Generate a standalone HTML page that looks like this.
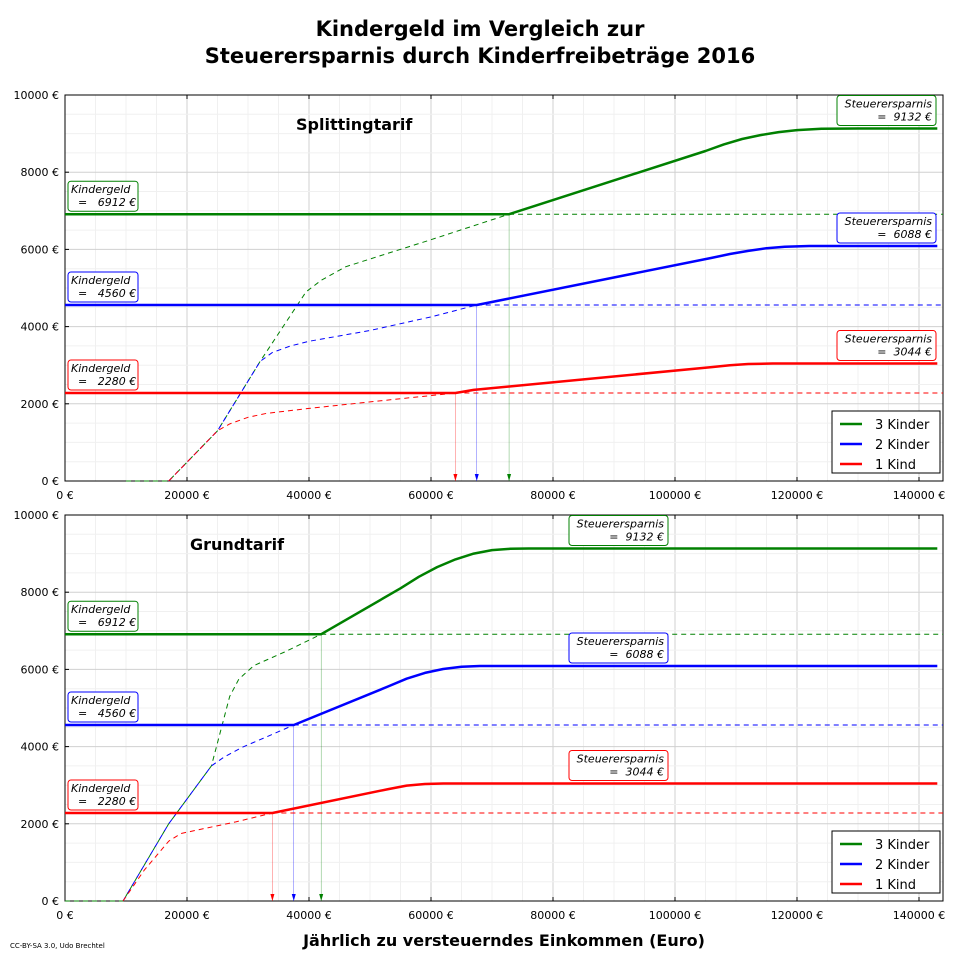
<!DOCTYPE html>
<html><head><meta charset="utf-8"><style>
body{margin:0;background:#fff;}
svg{display:block;font-family:"DejaVu Sans","Liberation Sans",sans-serif;}
</style></head><body>
<svg id="s" width="960" height="960" viewBox="0 0 960 960" xmlns="http://www.w3.org/2000/svg"></svg>
<script>
const s=document.getElementById('s');let h='';
h+='<rect width="960" height="960" fill="#fff"/>';
h+='<text x="480" y="36" font-size="21" font-weight="bold" text-anchor="middle">Kindergeld im Vergleich zur</text>';
h+='<text x="480" y="63" font-size="21" font-weight="bold" text-anchor="middle">Steuerersparnis durch Kinderfreibeträge 2016</text>';
const L=65,R=943;
function X(v){return L+v*0.0061;}
function panel(top,title,titleX,d){
 const bot=top+386;const Y=v=>bot-v*0.0386;
 for(let v=5000;v<=140000;v+=5000){h+=`<line x1="${X(v)}" y1="${top}" x2="${X(v)}" y2="${bot}" stroke="${v%20000?'#f0f0f0':'#d0d0d0'}" stroke-width="1"/>`;}
 for(let v=500;v<10000;v+=500){h+=`<line x1="${L}" y1="${Y(v)}" x2="${R}" y2="${Y(v)}" stroke="${v%2000?'#f0f0f0':'#d0d0d0'}" stroke-width="1"/>`;}
 h+=`<rect x="${L}" y="${top}" width="${R-L}" height="386" fill="none" stroke="#000" stroke-width="1"/>`;
 for(let v=0;v<=140000;v+=20000){h+=`<line x1="${X(v)}" y1="${bot}" x2="${X(v)}" y2="${bot-4}" stroke="#000"/><line x1="${X(v)}" y1="${top}" x2="${X(v)}" y2="${top+4}" stroke="#000"/><text x="${X(v)}" y="${bot+18}" font-size="11" text-anchor="middle">${v} €</text>`;}
 for(let v=0;v<=10000;v+=2000){h+=`<line x1="${L}" y1="${Y(v)}" x2="${L+4}" y2="${Y(v)}" stroke="#000"/><text x="${L-6}" y="${Y(v)+4}" font-size="11" text-anchor="end">${v} €</text>`;}
 h+=`<text x="${titleX}" y="${top+35}" font-size="16" font-weight="bold">${title}</text>`;
 const P=a=>a.map(p=>X(p[0]).toFixed(1)+','+Y(p[1]).toFixed(1)).join(' ');
 d.forEach(c=>{
  h+=`<polyline points="${P(c.dash)}" fill="none" stroke="${c.col}" stroke-width="1" stroke-dasharray="5,4"/>`;
  h+=`<line x1="${X(c.cx)}" y1="${Y(c.kg)}" x2="${R}" y2="${Y(c.kg)}" stroke="${c.col}" stroke-width="1" stroke-dasharray="5,4"/>`;
  h+=`<line x1="${X(c.cx)}" y1="${Y(c.kg)}" x2="${X(c.cx)}" y2="${bot}" stroke="${c.col}" stroke-width="0.5" opacity="0.6"/>`;
  h+=`<polygon points="${X(c.cx)-2},${bot-7} ${X(c.cx)+2},${bot-7} ${X(c.cx)},${bot}" fill="${c.col}"/>`;
  h+=`<polyline points="${P(c.solid)}" fill="none" stroke="${c.col}" stroke-width="2.5" stroke-linejoin="round"/>`;
  const ky=Y(c.kg)-33;
  h+=`<rect x="68" y="${ky}" width="70" height="30" rx="3" fill="#fff" stroke="${c.col}"/><text x="71" y="${ky+12}" font-size="11" font-style="italic">Kindergeld</text><text x="71" y="${ky+25}" font-size="11" font-style="italic">&#160;&#160;=&#160;&#160;&#160;${c.kg} €</text>`;
  const sy=Y(c.st)-33, sx=c.sx;
  h+=`<rect x="${sx}" y="${sy}" width="99" height="30" rx="3" fill="#fff" stroke="${c.col}"/><text x="${sx+95}" y="${sy+12}" font-size="11" font-style="italic" text-anchor="end">Steuerersparnis</text><text x="${sx+95}" y="${sy+25}" font-size="11" font-style="italic" text-anchor="end">=&#160;&#160;${c.st} €</text>`;
 });
 h+=`<rect x="832" y="${bot-70}" width="108" height="62" fill="#fff" stroke="#000"/>`;
 [['#008000','3 Kinder'],['#0000ff','2 Kinder'],['#ff0000','1 Kind']].forEach((l,i)=>{const y=bot-57+i*20;h+=`<line x1="840" y1="${y}" x2="862" y2="${y}" stroke="${l[0]}" stroke-width="2.5"/><text x="875" y="${y+5}" font-size="13">${l[1]}</text>`;});
}
const G='#008000',B='#0000ff',Rd='#ff0000';
panel(95,'Splittingtarif',296,[
 {col:G,kg:6912,st:9132,cx:72800,sx:837,
  dash:[[10000,0],[17000,0],[25000,1300],[32000,3100],[39500,4900],[42000,5200],[46000,5550],[50000,5750],[60000,6250],[72800,6912]],
  solid:[[0,6912],[72800,6912],[105000,8550],[108000,8720],[111000,8860],[114000,8960],[117000,9040],[120000,9090],[124000,9125],[130000,9132],[143000,9132]]},
 {col:B,kg:4560,st:6088,cx:67500,sx:837,
  dash:[[17000,0],[25000,1300],[32000,3100],[34000,3330],[37000,3500],[40000,3620],[50000,3900],[60000,4250],[67500,4560]],
  solid:[[0,4560],[67500,4560],[106000,5780],[109000,5880],[112000,5960],[115000,6030],[118000,6070],[122000,6088],[143000,6088]]},
 {col:Rd,kg:2280,st:3044,cx:64000,sx:837,
  dash:[[17000,0],[25000,1300],[27000,1480],[30000,1650],[33000,1750],[40000,1880],[50000,2050],[64000,2280]],
  solid:[[0,2280],[64000,2280],[67000,2360],[106000,2950],[109000,3000],[112000,3030],[116000,3044],[143000,3044]]}
]);
panel(515,'Grundtarif',190,[
 {col:G,kg:6912,st:9132,cx:42000,sx:569,
  dash:[[0,0],[9500,0],[17000,2000],[24000,3500],[27000,5300],[28500,5750],[31000,6100],[36000,6450],[42000,6912]],
  solid:[[0,6912],[42000,6912],[55000,8100],[58000,8400],[61000,8650],[64000,8850],[67000,9000],[70000,9090],[73000,9125],[76000,9132],[143000,9132]]},
 {col:B,kg:4560,st:6088,cx:37500,sx:569,
  dash:[[9500,0],[17000,2000],[24000,3500],[26000,3720],[29000,3980],[33000,4250],[37500,4560]],
  solid:[[0,4560],[37500,4560],[53000,5560],[56000,5760],[59000,5910],[62000,6010],[65000,6070],[68000,6088],[143000,6088]]},
 {col:Rd,kg:2280,st:3044,cx:34000,sx:569,
  dash:[[9500,0],[13000,800],[17000,1550],[19000,1750],[22000,1850],[28000,2050],[34000,2280]],
  solid:[[0,2280],[34000,2280],[53000,2900],[56000,2990],[59000,3030],[62000,3044],[143000,3044]]}
]);
h+='<text x="504" y="946" font-size="16" font-weight="bold" text-anchor="middle">Jährlich zu versteuerndes Einkommen (Euro)</text>';
h+='<text x="10" y="948" font-size="7">CC-BY-SA 3.0, Udo Brechtel</text>';
s.innerHTML=h;
</script>
</body></html>
